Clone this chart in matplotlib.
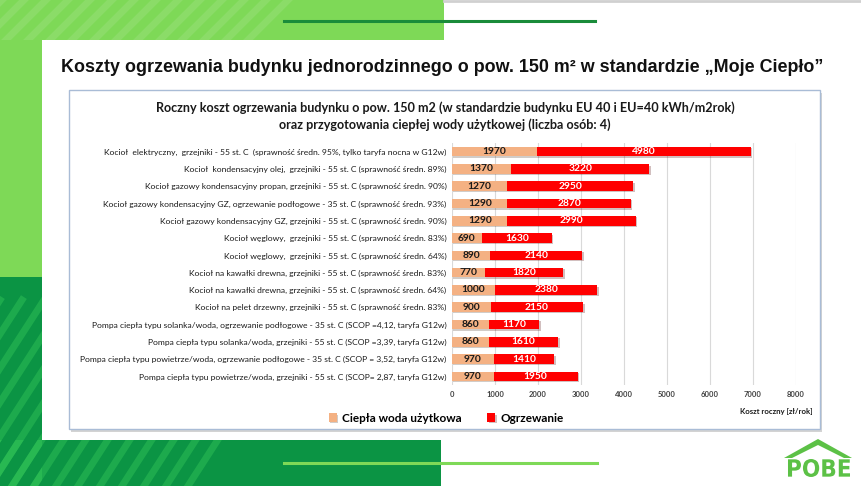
import numpy as np
import matplotlib
matplotlib.use('Agg')
import matplotlib.pyplot as plt
import matplotlib.patches as mpatches
import matplotlib.patheffects as pe
from matplotlib.textpath import TextPath
from matplotlib.font_manager import FontProperties
from matplotlib.path import Path

# dane
kategorie = [
    'Kocioł  elektryczny,  grzejniki - 55 st. C  (sprawność średn. 95%, tylko taryfa nocna w G12w)',
    'Kocioł  kondensacyjny olej,  grzejniki - 55 st. C (sprawność średn. 89%)',
    'Kocioł gazowy kondensacyjny propan, grzejniki - 55 st. C (sprawność średn. 90%)',
    'Kocioł gazowy kondensacyjny GZ, ogrzewanie podłogowe - 35 st. C (sprawność średn. 93%)',
    'Kocioł gazowy kondensacyjny GZ, grzejniki - 55 st. C (sprawność średn. 90%)',
    'Kocioł węglowy,  grzejniki - 55 st. C (sprawność średn. 83%)',
    'Kocioł węglowy,  grzejniki - 55 st. C (sprawność średn. 64%)',
    'Kocioł na kawałki drewna, grzejniki - 55 st. C (sprawność średn. 83%)',
    'Kocioł na kawałki drewna, grzejniki - 55 st. C (sprawność średn. 64%)',
    'Kocioł na pelet drzewny, grzejniki - 55 st. C (sprawność średn. 83%)',
    'Pompa ciepła typu solanka/woda, ogrzewanie podłogowe - 35 st. C (SCOP =4,12, taryfa G12w)',
    'Pompa ciepła typu solanka/woda, grzejniki - 55 st. C (SCOP =3,39, taryfa G12w)',
    'Pompa ciepła typu powietrze/woda, ogrzewanie podłogowe - 35 st. C (SCOP = 3,52, taryfa G12w)',
    'Pompa ciepła typu powietrze/woda, grzejniki - 55 st. C (SCOP= 2,87, taryfa G12w)',
]
cwu = [1970, 1370, 1270, 1290, 1290, 690, 890, 770, 1000, 900, 860, 860, 970, 970]
ogrzewanie = [4980, 3220, 2950, 2870, 2990, 1630, 2140, 1820, 2380, 2150, 1170, 1610, 1410, 1950]
xticks = [0, 1000, 2000, 3000, 4000, 5000, 6000, 7000, 8000]

JASNY = '#7ed957'
CIEMNY = '#0b9444'
TAN = '#f4b183'
RED = '#ff0000'
LOGO = '#5cc146'
W, H = 862, 486

fig = plt.figure(figsize=(W / 100, H / 100), dpi=100)

# tło slajdu
bg = fig.add_axes([0, 0, 1, 1])
bg.set_xlim(0, W)
bg.set_ylim(H, 0)
bg.axis('off')

def rect(x, y, w, h, **kw):
    r = mpatches.Rectangle((x, y), w, h, **kw)
    bg.add_patch(r)
    return r

r_top = rect(0, 0, 444, 40, color=JASNY, lw=0)
rect(0, 0, 42, 277, color=JASNY, lw=0)
r_left = rect(0, 277, 42, 209, color=CIEMNY, lw=0)
r_bot = rect(0, 440, 441, 46, color=CIEMNY, lw=0)
bg.plot([444, W], [1, 1], color='#d0d0d0', lw=2)

# paski ukośne
for x0 in range(-60, 260, 22):
    ln, = bg.plot([x0, x0 + 40], [40, 0], color='white', alpha=0.1, lw=5)
    ln.set_clip_path(r_top)
for x0 in range(-120, 200, 22):
    for r in (r_left, r_bot):
        ln, = bg.plot([x0, x0 + 120], [486, 300], color='#3fd45e', alpha=0.35, lw=5)
        ln.set_clip_path(r)

bg.plot([284, 595], [21, 21], color='#1a8c3a', lw=2.2)
bg.plot([284, 597], [463, 463], color=JASNY, lw=2.2)

# tytuł slajdu
bg.text(442, 68, 'Koszty ogrzewania budynku jednorodzinnego o pow. 150 m² w standardzie „Moje Ciepło”',
        ha='center', va='center', fontsize=12.9, fontweight='bold', family='Liberation Sans', color='#111111')

# ramka wykresu z cieniem
rect(71, 93, 751, 339, facecolor='#c8c8c8', lw=0, alpha=0.8)
rect(69, 90, 751, 339, facecolor='white', edgecolor='#a9bcd6', lw=1)

bg.text(445, 108, 'Roczny koszt ogrzewania budynku o pow. 150 m2 (w standardzie budynku EU 40 i EU=40 kWh/m2rok)',
        ha='center', va='center', fontsize=9.1, fontweight='bold', family='Lato', color='#1a1a1a')
bg.text(445, 125, 'oraz przygotowania ciepłej wody użytkowej (liczba osób: 4)',
        ha='center', va='center', fontsize=9.1, fontweight='bold', family='Lato', color='#1a1a1a')

# logo POBE
bg.add_patch(mpatches.Polygon([(784, 458), (818, 439), (852, 458), (844, 458), (818, 445), (792, 458)],
                              closed=True, color=LOGO, lw=0))
tp = TextPath((0, 0), 'POBE', size=10, prop=FontProperties(family='DejaVu Sans', weight='bold'))
v = tp.vertices.copy()
x0, x1 = v[:, 0].min(), v[:, 0].max()
y0, y1 = v[:, 1].min(), v[:, 1].max()
v[:, 0] = 786 + (v[:, 0] - x0) / (x1 - x0) * (850 - 786)
v[:, 1] = 477 - (v[:, 1] - y0) / (y1 - y0) * (477 - 459)
bg.add_patch(mpatches.PathPatch(Path(v, tp.codes), color=LOGO, lw=0))

# wykres
ax = fig.add_axes([452 / W, 1 - 385 / H, (796 - 452) / W, (385 - 143) / H])
ax.patch.set_alpha(0)
y = np.arange(len(kategorie))
shadow = [pe.SimplePatchShadow(offset=(1, -1), alpha=0.25), pe.Normal()]
b1 = ax.barh(y, cwu, height=0.55, color=TAN, label='Ciepła woda użytkowa', zorder=3)
b2 = ax.barh(y, ogrzewanie, left=cwu, height=0.55, color=RED, label='Ogrzewanie', zorder=3)
for b in list(b1) + list(b2):
    b.set_path_effects(shadow)

for i in range(len(kategorie)):
    ax.text(cwu[i] / 2, i, str(cwu[i]), ha='center', va='center', fontsize=7.4,
            fontweight='bold', family='Lato', color='#1a1a1a', zorder=4)
    ax.text(cwu[i] + ogrzewanie[i] / 2, i, str(ogrzewanie[i]), ha='center', va='center',
            fontsize=7.4, fontweight='bold', family='Lato', color='white', zorder=4)

ax.set_xlim(0, 8000)
ax.set_ylim(len(kategorie) - 0.5, -0.5)
ax.set_xticks(xticks)
ax.set_xticklabels([str(t) for t in xticks], fontsize=5.5, fontweight='bold', family='Lato', color='#404040')
ax.set_yticks(y)
ax.set_yticklabels(kategorie, fontsize=6.1, family='Lato', color='#1a1a1a')
ax.tick_params(length=0, pad=4)
ax.grid(axis='x', color='#d9d9d9', lw=0.8, zorder=0)
for s in ax.spines.values():
    s.set_visible(False)

fig.text(813 / W, 1 - 411 / H, 'Koszt roczny [zł/rok]', ha='right', va='center', fontsize=5.6,
         fontweight='bold', family='Lato', color='#1a1a1a')

fig.legend(handles=[b1, b2], loc='center', bbox_to_anchor=(446 / W, 1 - 418 / H), ncol=2,
           frameon=False, handlelength=0.7, handleheight=0.7, handletextpad=0.4, columnspacing=2.2,
           prop={'family': 'Lato', 'weight': 'bold', 'size': 8.5})

plt.savefig('out.png', dpi=100)
